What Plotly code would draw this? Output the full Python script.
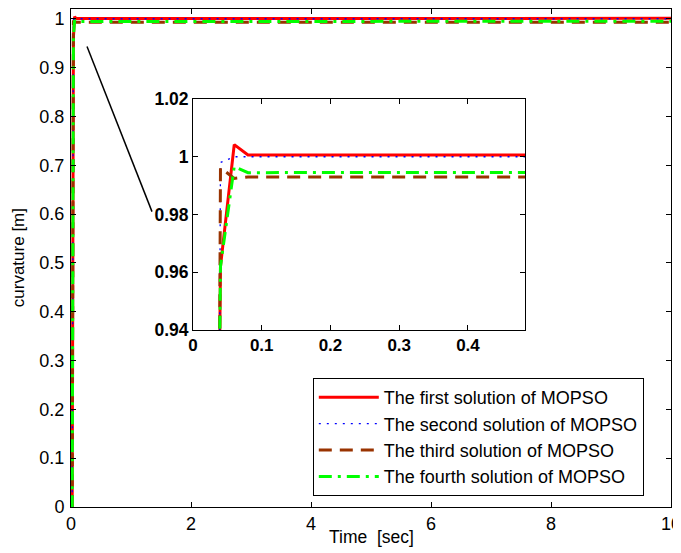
import plotly.graph_objects as go

# ---- data ----
time_s = [0, 0.02, 0.04, 0.06, 0.08, 10]
sol1 = [0, 0, 0.962, 1.0042, 1.0006, 1.0008]
sol2 = [0, 0, 0.998, 1.0000, 1.0000, 1.0000]
sol3 = [0, 0, 0.9962, 0.9925, 0.9930, 0.9930]
sol4 = [0, 0, 0.962, 0.9966, 0.9945, 0.9948]
names = ["The first solution of MOPSO", "The second solution of MOPSO",
         "The third solution of MOPSO", "The fourth solution of MOPSO"]

main_xticks = [0, 2, 4, 6, 8, 10]
main_yticks = [0, 0.1, 0.2, 0.3, 0.4, 0.5, 0.6, 0.7, 0.8, 0.9, 1]
main_yticktext = ["0", "0.1", "0.2", "0.3", "0.4", "0.5", "0.6", "0.7", "0.8", "0.9", "1"]
inset_xticks = [0, 0.1, 0.2, 0.3, 0.4]
inset_xticktext = ["0", "0.1", "0.2", "0.3", "0.4"]
inset_yticks = [0.94, 0.96, 0.98, 1.0, 1.02]
inset_yticktext = ["0.94", "0.96", "0.98", "1", "1.02"]

styles = [
    dict(color="#ff0000", width=3, dash="solid"),
    dict(color="#0000ff", width=1.3, dash="2px,6px"),
    dict(color="#993300", width=3, dash="13px,8px"),
    dict(color="#00ff00", width=3, dash="13px,6px,3px,6px"),
]
series = [sol1, sol2, sol3, sol4]

FONT = "Liberation Sans, Arial, sans-serif"
fig = go.Figure()

for i, (ys, st, nm) in enumerate(zip(series, styles, names)):
    fig.add_trace(go.Scatter(x=time_s, y=ys, mode="lines", name=nm, line=st,
                             legendgroup=f"g{i}", xaxis="x", yaxis="y"))
for i, (ys, st) in enumerate(zip(series, styles)):
    fig.add_trace(go.Scatter(x=time_s, y=ys, mode="lines", line=st, showlegend=False,
                             xaxis="x2", yaxis="y2"))

axis_common = dict(showgrid=False, zeroline=False, showline=True, linecolor="black",
                   linewidth=1, mirror="ticks", ticks="inside", ticklen=5,
                   tickcolor="black", automargin=False)

fig.update_layout(
    width=681, height=553,
    margin=dict(l=63, r=18, t=1, b=54),
    paper_bgcolor="white", plot_bgcolor="white",
    font=dict(family=FONT, size=16, color="black"),
    xaxis=dict(domain=[0, 1], range=[0, 10], tickvals=main_xticks,
               tickfont=dict(size=18), **axis_common),
    yaxis=dict(domain=[0, 1], range=[0, 1.02], tickvals=main_yticks,
               ticktext=main_yticktext, ticklabelstandoff=2,
               tickfont=dict(size=18), **axis_common),
    xaxis2=dict(domain=[0.2033, 0.7567], range=[0, 0.483], anchor="y2",
                tickvals=inset_xticks, ticktext=inset_xticktext,
                tickfont=dict(size=17, weight="bold"), **axis_common),
    yaxis2=dict(domain=[0.3554, 0.8193], range=[0.94, 1.02], anchor="x2",
                tickvals=inset_yticks, ticktext=inset_yticktext,
                tickfont=dict(size=17.5, weight="bold"), **axis_common),
    legend=dict(x=0.403, y=0.259, xanchor="left", yanchor="top",
                bgcolor="white", bordercolor="black", borderwidth=1,
                font=dict(size=18), tracegroupgap=0, itemwidth=60),
    shapes=[dict(type="line", xref="x", yref="y", x0=0.267, y0=0.943,
                 x1=1.35, y1=0.605, line=dict(color="black", width=1.5))],
    annotations=[
        dict(text="Time\u00a0 [sec]", xref="paper", yref="paper", x=0.5, y=-0.061,
             xanchor="center", yanchor="middle", showarrow=False, font=dict(size=17.5)),
        dict(text="curvature [m]", xref="paper", yref="paper", x=-0.088, y=0.5,
             xanchor="center", yanchor="middle", textangle=-90, showarrow=False,
             font=dict(size=17)),
    ],
)

fig.write_html("out.html")
